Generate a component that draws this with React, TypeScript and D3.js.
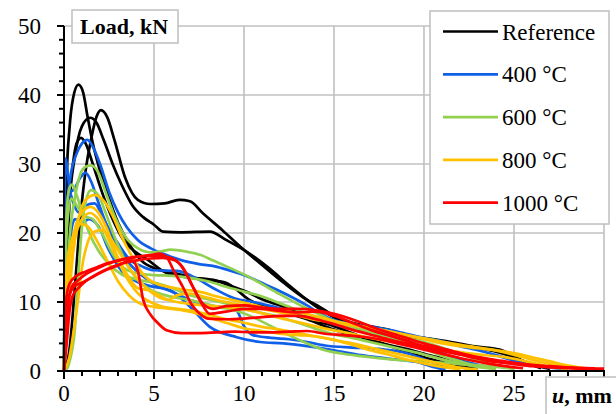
import React from "react";
import * as d3 from "d3";

type Pt = [number, number];

const seriesNames = ["Reference", "400 \u00B0C", "600 \u00B0C", "800 \u00B0C", "1000 \u00B0C"];
const seriesColors = ["#000000", "#0f5fe8", "#92d050", "#ffc000", "#ff0000"];

const xTicks = [0, 5, 10, 15, 20, 25];
const yTicks = [0, 10, 20, 30, 40, 50];

const referenceCurves: Pt[][] = [
  [[0,0],[0.05,12],[0.15,28],[0.3,35],[0.5,39.5],[0.8,41.5],[1.05,40.5],[1.3,37],[1.6,33],[2.0,29],[2.5,25],[3.0,21.5],[3.6,18.5],[4.3,16],[5,14.9],[6,14.3],[7.2,13.5],[8,13.2],[9,12.8],[10.3,10.3],[11.5,9],[12.5,8.3],[13.5,7.5],[15,6],[16,5.2],[17,4.6],[18,3.8],[19,3.2],[20,2.5],[21,1.8],[22,1],[23,0.4]],
  [[0,0],[0.1,10],[0.3,24],[0.6,31],[1.0,35.5],[1.45,36.7],[1.8,36],[2.2,33.5],[2.7,30],[3.2,27],[3.8,24],[4.4,22.3],[5,21.2],[5.5,20.2],[6.5,20.1],[8.1,20.2],[9,19],[10.2,17.2],[11.3,15.1],[12.6,12.2],[13.5,10.3],[14.5,8.5],[15.5,7.2],[16.8,6.4],[18,5.8],[19.2,5],[20.5,4.5],[21.5,4],[22.7,3.5],[24,2.8],[25,2],[26,1],[27,0.3]],
  [[0,0],[0.3,3],[0.6,12],[0.9,22],[1.2,29],[1.5,33.5],[1.8,36.8],[2.05,37.8],[2.4,36.8],[2.8,33.5],[3.4,28],[4.1,24.8],[4.8,24.2],[5.6,24.3],[6.4,24.8],[7,24.6],[7.7,22.9],[8.8,20.4],[9.8,18],[10.9,15.6],[12.2,12.8],[13.5,10.3],[14.2,9.3],[15,8],[16,7],[17,6.5],[18,6],[19.2,5.1],[20,4.8],[21.3,4.3],[22.7,3.6],[24.2,3.1],[24.8,2.4],[25.5,1.4],[26.5,0.4]],
  [[0,0],[0.05,10],[0.2,22],[0.45,29],[0.7,33],[0.95,33.8],[1.2,33],[1.6,30],[2.1,26],[2.7,22],[3.3,19],[4,17.2],[4.6,16.2],[5.7,14.2],[6.8,13.6],[8.3,13.2],[9.4,12.2],[10.3,11.3],[11,10.4],[12,9.5],[13,8.5],[14,7.3],[15,6.5],[16,5.5],[17,4.5],[18,3.7],[19,2.8],[20,2],[21,1.3],[22,0.6],[23,0.2]],
];

const curves400: Pt[][] = [
  [[0,0],[0.05,12],[0.15,22],[0.35,28],[0.7,31.5],[1.0,33],[1.3,33.5],[1.6,32.5],[2,30],[2.5,26],[3,23],[3.5,20.8],[4.1,19],[4.8,17.8],[5.7,16.8],[6.6,16],[7.5,15.5],[8.5,15.1],[9.4,14.4],[10.3,13.6],[11.2,12.5],[12.2,11.3],[13.5,9.5],[14.3,8.2],[15,7.4],[16.8,6.5],[18,6],[19,5.4],[20,4.8],[21,4.3],[22,3.6],[23,3],[24,2.3],[25,1.5],[26,0.9],[27,0.5],[28,0.3]],
  [[0,0],[0.04,24],[0.1,30.8],[0.2,29],[0.35,26],[0.6,26.5],[0.9,28],[1.2,28.7],[1.5,27.5],[1.9,24.5],[2.4,21],[3,18.5],[3.7,16],[4.3,15.2],[5,14.6],[6.3,14.5],[7.3,13.5],[8.3,12],[9.5,10.5],[10.5,10],[11.5,9.4],[12.5,8.7],[13.5,8],[14.5,7.2],[15.5,6.4],[16.5,5.8],[18,5.2],[19,4.4],[20,3.5],[21,2.6],[22,1.6],[23,0.9],[24,0.4]],
  [[0,0],[0.05,14],[0.15,23],[0.3,26],[0.5,24.5],[0.8,23],[1.2,24],[1.7,24.3],[2.2,22],[2.8,19],[3.5,16],[4.3,13.9],[5.2,12.3],[6,11.5],[7,10.3],[8,9.5],[9,9.2],[9.6,8.7],[10,6.5],[10.5,5.2],[11.5,4.8],[12.5,4.6],[13.5,4.2],[14.5,3.7],[16,3.4],[17.5,3.2],[19,2.6],[20,1.7],[21,0.8],[22,0.3]],
  [[0,0],[0.1,8],[0.3,18],[0.6,22],[1,21.5],[1.4,22],[1.9,21],[2.5,17.5],[3.2,14.5],[4,13],[4.8,12.3],[5.9,11.7],[7,9.3],[8.1,6.4],[9.6,4.9],[10.9,4.2],[12.2,4],[13.5,3.6],[15,3],[16.5,2.3],[18,1.8],[19.6,1.3],[20.5,0.6],[21.2,0.2]],
];

const curves600: Pt[][] = [
  [[0,0],[0.1,10],[0.3,19],[0.6,25],[0.9,28.5],[1.2,29.6],[1.5,29.8],[1.9,28.8],[2.3,26],[2.8,22.5],[3.4,19.5],[4.1,17.8],[4.8,17.2],[5.5,17.4],[5.9,17.6],[6.8,17.3],[7.6,16.8],[8.3,16],[9,15.2],[10.3,13.6],[11.8,11.4],[13.3,9.3],[14.2,8.2],[15,7.2],[16,6.5],[17,6],[18,5.4],[19,4.8],[20,4.2],[21,3.4],[22,2.5],[23,1.6],[24,0.9],[25,0.3]],
  [[0,0],[0.05,15],[0.15,23],[0.3,26.5],[0.45,27],[0.7,25.5],[1,23],[1.4,20],[1.9,17.5],[2.5,15.5],[3.2,14],[4,13.3],[5,12.8],[6,12],[7,11],[8,10.4],[9,9.8],[10,9],[11,8.4],[12,7.8],[13,7],[14,6.1],[15,5.3],[16,4.8],[17,4.2],[18,3.6],[19,3],[20,2.4],[21,1.7],[22,1.1],[23,0.6],[24,0.3]],
  [[0,0],[0.2,0.5],[0.33,1.6],[0.6,6],[0.8,14],[1,21],[1.2,24.5],[1.5,26.2],[1.9,25.5],[2.3,23],[2.8,19.5],[3.4,16],[4,13.5],[4.8,11.8],[5.6,11],[6.5,10.5],[7.5,10],[8.5,9.3],[9.5,8.8],[10.5,7.8],[11.5,6.5],[12.5,5.2],[13.5,4],[14.5,3],[15.5,2.5],[17,2],[18.5,1.6],[20,1.4],[22,1],[24,0.6],[25,0.3]],
  [[0,0],[0.05,12],[0.2,22],[0.4,25],[0.7,24],[1.1,22.5],[1.6,22],[2.1,20],[2.7,17],[3.3,15],[4,14.2],[5,13.9],[6,13.8],[7,13.5],[8,13],[9,12.2],[10,11.5],[11,10.8],[12,9.8],[13,8.8],[14,7.8],[15,7],[16,6.3],[17,5.6],[18,4.8],[19,4],[20,3.2],[21,2.2],[22,1.4],[23,0.7],[24,0.3]],
];

const curves800: Pt[][] = [
  [[0,0],[0.1,4],[0.3,11],[0.5,17],[0.8,22],[1.2,24.8],[1.7,25.5],[2.2,24.7],[2.7,22.5],[3.2,19.5],[3.8,16.5],[4.4,14],[5,12.8],[5.8,12.2],[6.6,11.8],[7.5,11.5],[8.5,10.8],[9.5,10.2],[10.5,9.6],[11.5,9],[12.5,8.6],[13.5,8.2],[14.5,7.6],[15.5,7],[16.5,6.5],[17.5,6],[18.5,5.5],[19.5,5],[20.5,4.5],[21.5,4],[22.5,3.6],[23.5,3.2],[24.6,2.6],[25.5,2],[26.5,1.3],[27.5,0.8],[28.5,0.4]],
  [[0,0],[0.05,8],[0.2,14],[0.4,18],[0.7,21.5],[1.1,23.3],[1.45,23.8],[1.9,23],[2.4,20.5],[2.9,17],[3.5,14],[4.1,12],[4.7,11.7],[5.8,10.3],[6.8,9.8],[7.8,9.5],[8.8,9.3],[9.8,9],[10.8,8.5],[11.8,7.8],[12.8,7.2],[13.8,6.6],[14.8,6],[15.8,5.5],[16.8,4.9],[17.8,4.4],[18.8,4],[19.8,3.6],[20.8,3.2],[21.8,2.8],[23,2.4],[24.5,2],[26,1.2],[27,0.6],[28,0.3]],
  [[0,0],[0.1,6],[0.3,13],[0.6,19],[1,22],[1.45,22.9],[1.9,22],[2.4,19.5],[3,16],[3.6,13],[4.2,11],[4.8,10],[5.5,9.3],[6.3,9],[7.2,8.7],[8,8.2],[9,7.5],[10,7],[11,6.4],[12,6],[13,5.5],[14,5],[15,4.5],[16,4],[17,3.4],[18,2.8],[19,2.2],[20,1.6],[21,1],[22,0.5],[23,0.2]],
  [[0,0],[0.3,2],[0.55,6],[0.8,10.7],[1.0,15],[1.3,18.5],[1.7,20.2],[2.1,20.4],[2.5,19.5],[3,17.5],[3.6,15],[4.2,13],[4.7,11.7],[5.8,10.3],[6.3,11],[7,11.2],[8,10.6],[9,10],[10,9.5],[11,9],[12,8.5],[13,8],[14,7.4],[15,7],[16,6.6],[17,6.2],[18,5.8],[19,5.2],[20,4.6],[21,4],[22,3.6],[23,3.3],[24,3],[25,2.6],[26,2],[27,1.4],[28,0.8],[29,0.4]],
  [[0,0],[0.05,10],[0.2,16],[0.5,19.5],[0.9,21.3],[1.3,21],[1.8,19],[2.4,16],[3,13],[3.6,11],[4.2,9.8],[5,9.3],[6,9],[7,8.6],[8,7.8],[9,7],[10,6.2],[11,5.8],[12,5.4],[13,5.2],[14,5],[15,4.5],[16,3.8],[17,3],[18,2.4],[19,1.7],[20,1.1],[21,0.6],[22,0.3]],
];

const curves1000: Pt[][] = [
  [[0,0],[0.08,4],[0.18,8.5],[0.3,11],[0.6,12.3],[1,12.8],[1.5,13.5],[2,14.2],[2.5,14.8],[3,15.3],[3.5,15.9],[3.8,16],[4.1,14.5],[4.4,10.3],[4.8,8.2],[5.2,7],[5.7,5.9],[6.5,5.5],[7.5,5.5],[8.5,5.6],[9.5,5.7],[10.5,5.6],[11.5,5.6],[12.5,5.7],[13.5,5.8],[14.5,5.4],[15.5,5.2],[16.5,5],[17.5,4.6],[18.5,4],[19.5,3.4],[20.5,2.8],[21.5,2.2],[22.5,1.6],[23.5,1.1],[24.5,0.7],[25.5,0.4]],
  [[0,0],[0.1,5],[0.25,10],[0.45,12.3],[0.8,13.2],[1.2,14],[1.8,14.8],[2.4,15.5],[3,16],[3.6,16.3],[4.2,16.6],[4.8,16.8],[5.3,17],[5.7,16.5],[6.1,14.5],[6.6,12.2],[7.1,9.6],[7.5,8.4],[8,7.6],[9,7.5],[10,7.6],[11,7.8],[12,8],[13,8],[14,7.5],[15,6.8],[16,6],[17,5.3],[18,4.6],[19,4],[20,3.4],[21,2.9],[22,2.4],[23,2],[24,1.6],[25,1.2],[26,0.9],[27,0.7],[28,0.5],[29,0.35],[30,0.3]],
  [[0,0],[0.05,7],[0.15,11],[0.3,12.6],[0.7,13.8],[1.2,14.4],[1.8,15],[2.4,15.6],[3,16],[3.6,16.4],[4.2,16.6],[4.8,16.7],[5.5,16.6],[6.1,16.2],[6.6,15],[7.1,12.5],[7.6,10],[8.1,8.3],[9,8.6],[10,9],[11,9],[12,8.7],[13,8.5],[14,8.6],[15,8],[16,7],[17,6],[18,5.2],[19,4.4],[20,3.6],[21,3],[22,2.4],[23,1.8],[24,1.3],[25,1],[26,0.7],[28,0.4],[30,0.3]],
  [[0,0],[0.15,4],[0.3,8.5],[0.5,11],[0.8,12],[1.2,13],[1.8,14],[2.4,14.8],[3,15.4],[3.6,15.8],[4.2,16.1],[4.8,16.3],[5.5,16.4],[6.2,16],[6.7,14.5],[7.2,12],[7.7,9.8],[8.3,9],[9,9.4],[10,9.5],[11,9.2],[12,9],[13,9],[14,8.8],[15,8.3],[16,7.5],[17,6.5],[18,5.6],[19,4.8],[20,4],[21,3.3],[22,2.6],[23,2],[24,1.5],[25,1.1],[26,0.8],[27,0.6],[28,0.5],[29.5,0.4]],
];

const allSeries = [referenceCurves, curves400, curves600, curves800, curves1000];

const W = 616;
const H = 414;
const X0 = 64, X1 = 604, Y0 = 371, Y1 = 26;
const FONT = "Liberation Serif, Times New Roman, DejaVu Serif, serif";

export default function App() {
  const x = d3.scaleLinear().domain([0, 30]).range([X0, X1]);
  const y = d3.scaleLinear().domain([0, 50]).range([Y0, Y1]);
  const line = d3
    .line<Pt>()
    .x((d) => x(d[0]))
    .y((d) => y(d[1]))
    .curve(d3.curveMonotoneX);

  const gridX = d3.range(5, 31, 5);
  const gridY = d3.range(10, 51, 10);
  const minorX = d3.range(0, 31, 1);
  const minorY = d3.range(0, 51, 2);

  const grid = "#c0c0c0";
  const txt = { fontFamily: FONT } as React.CSSProperties;

  return (
    <svg
      width={W}
      height={H}
      style={{ position: "fixed", left: 0, top: 0, background: "#fff", fontFamily: FONT }}
    >
      <rect x={0} y={0} width={W} height={H} fill="#fff" />
      {gridX.map((v) => (
        <line key={"gx" + v} x1={x(v)} x2={x(v)} y1={Y0} y2={Y1} stroke={grid} strokeWidth={1.6} />
      ))}
      {gridY.map((v) => (
        <line key={"gy" + v} x1={X0} x2={X1} y1={y(v)} y2={y(v)} stroke={grid} strokeWidth={1.6} />
      ))}

      {allSeries.map((curves, si) =>
        curves.map((c, ci) => (
          <path
            key={si + "-" + ci}
            d={line(c) || ""}
            fill="none"
            stroke={seriesColors[si]}
            strokeWidth={2.7}
            strokeLinejoin="round"
          />
        ))
      )}

      {/* axes */}
      <line x1={X0} x2={X0} y1={Y0 + 1} y2={Y1} stroke="#000" strokeWidth={2} />
      <line x1={X0 - 1} x2={X1 + 1} y1={Y0} y2={Y0} stroke="#000" strokeWidth={2} />
      {minorY.map((v) => (
        <line
          key={"ty" + v}
          x1={X0 - (v % 10 === 0 ? 7 : 5)}
          x2={X0}
          y1={y(v)}
          y2={y(v)}
          stroke="#000"
          strokeWidth={2}
        />
      ))}
      {minorX.map((v) => (
        <line
          key={"tx" + v}
          x1={x(v)}
          x2={x(v)}
          y1={Y0}
          y2={Y0 + (v % 5 === 0 ? 8 : 5)}
          stroke="#000"
          strokeWidth={2}
        />
      ))}
      {yTicks.map((v) => (
        <text key={"ly" + v} x={41} y={y(v) + 8} textAnchor="end" fontSize={23} fill="#000" style={txt}>
          {v}
        </text>
      ))}
      {xTicks.map((v) => (
        <text key={"lx" + v} x={x(v)} y={401} textAnchor="middle" fontSize={23} fill="#000" style={txt}>
          {v}
        </text>
      ))}

      {/* y label box */}
      <rect x={72} y={10} width={106} height={33} fill="#fff" stroke="#bfbfbf" strokeWidth={1.5} />
      <text x={80} y={34} fontSize={22} fontWeight="bold" fill="#000" style={txt}>
        Load, kN
      </text>

      {/* x label box */}
      <rect x={546} y={377} width={80} height={50} fill="#fff" stroke="#bfbfbf" strokeWidth={1.5} />
      <text x={552} y={403} fontSize={22} fontWeight="bold" fill="#000" style={txt}>
        <tspan fontStyle="italic">u</tspan>
        <tspan>, mm</tspan>
      </text>

      {/* legend */}
      <rect x={430} y={11} width={179} height={213} fill="#fff" stroke="#bfbfbf" strokeWidth={1.5} />
      {seriesNames.map((name, i) => {
        const cy = 31.5 + i * 42.8;
        return (
          <g key={name}>
            <line x1={443} x2={498} y1={cy} y2={cy} stroke={seriesColors[i]} strokeWidth={2.7} />
            <text x={502} y={cy + 8} fontSize={23} fill="#000" style={txt}>
              {name}
            </text>
          </g>
        );
      })}
    </svg>
  );
}
